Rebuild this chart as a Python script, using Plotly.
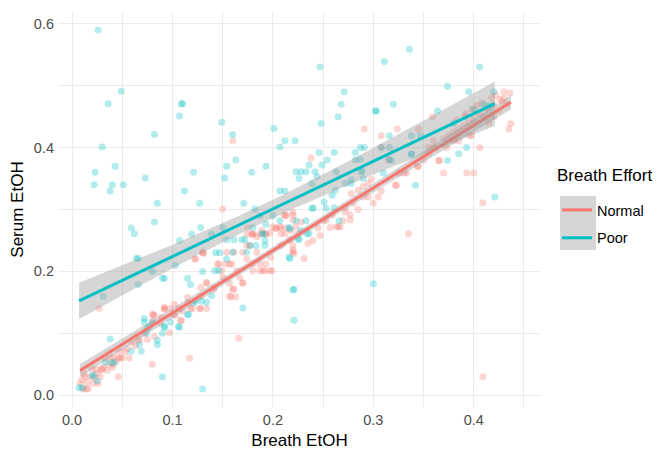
import numpy as np
import plotly.graph_objects as go

# ---------------- data ----------------
groups = ["Normal", "Poor"]
colors = {"Normal": "#F8766D", "Poor": "#00BFC4"}

normal_breath = [
    0.008, 0.011, 0.014, 0.016, 0.013, 0.021, 0.026, 0.030, 0.033, 0.027, 0.038, 0.041, 0.046, 0.048,
    0.053, 0.057, 0.063, 0.066, 0.075, 0.080, 0.081, 0.089, 0.092, 0.097, 0.101, 0.107, 0.109, 0.115,
    0.120, 0.117, 0.127, 0.128, 0.134, 0.141, 0.130, 0.145, 0.149, 0.154, 0.157, 0.161, 0.157, 0.161,
    0.167, 0.170, 0.166, 0.174, 0.180, 0.184, 0.190, 0.197, 0.193, 0.200, 0.207, 0.212, 0.208, 0.220,
    0.211, 0.220,
    0.020, 0.024, 0.029, 0.036, 0.041, 0.046, 0.047, 0.082, 0.092, 0.103, 0.082, 0.088, 0.072, 0.067,
    0.055, 0.060,
    0.080, 0.080, 0.092, 0.098, 0.102, 0.108, 0.110, 0.115, 0.118, 0.128, 0.134, 0.123, 0.131, 0.128,
    0.134, 0.141, 0.146, 0.153, 0.159, 0.150, 0.157, 0.160, 0.158, 0.163, 0.164, 0.170, 0.174, 0.180,
    0.187, 0.193, 0.174, 0.180, 0.187, 0.193, 0.180, 0.187, 0.192, 0.199, 0.170, 0.177,
    0.160, 0.150, 0.175, 0.179, 0.203, 0.208, 0.213, 0.218, 0.213, 0.220, 0.122, 0.130,
    0.238, 0.213, 0.220, 0.223, 0.228, 0.251, 0.257, 0.265, 0.270, 0.259, 0.272, 0.277, 0.278, 0.285,
    0.290, 0.295, 0.203, 0.197, 0.208, 0.184, 0.189, 0.220, 0.221, 0.198,
    0.335, 0.409, 0.409, 0.231, 0.220, 0.253, 0.263, 0.267, 0.277, 0.272, 0.217, 0.225,
    0.359, 0.291, 0.308, 0.324, 0.345, 0.391, 0.308, 0.396, 0.406, 0.437, 0.435, 0.365, 0.370, 0.393,
    0.400, 0.344, 0.331, 0.326, 0.322, 0.323, 0.308, 0.298, 0.295, 0.290, 0.360, 0.362, 0.380,
    0.315, 0.333, 0.345, 0.350, 0.355, 0.366, 0.373, 0.385, 0.398, 0.415, 0.420, 0.300, 0.305, 0.285,
    0.280, 0.245, 0.240, 0.235, 0.247,
    0.400, 0.405, 0.410, 0.415, 0.420, 0.425, 0.428, 0.390, 0.385, 0.380, 0.375, 0.370, 0.360, 0.355,
    0.430, 0.433, 0.395, 0.412,
    0.010, 0.012, 0.015, 0.018, 0.022, 0.025, 0.028, 0.031, 0.035, 0.040, 0.044, 0.050,
    0.418, 0.422, 0.426, 0.430, 0.436, 0.403, 0.408, 0.392, 0.398, 0.383,
]
normal_serum = [
    0.019, 0.010, 0.010, 0.010, 0.030, 0.019, 0.019, 0.041, 0.060, 0.140, 0.060, 0.050, 0.030, 0.060,
    0.070, 0.060, 0.080, 0.090, 0.090, 0.050, 0.130, 0.126, 0.140, 0.101, 0.130, 0.140, 0.121, 0.149,
    0.140, 0.060, 0.140, 0.160, 0.182, 0.171, 0.231, 0.212, 0.201, 0.231, 0.212, 0.231, 0.160, 0.171,
    0.190, 0.182, 0.092, 0.242, 0.261, 0.231, 0.201, 0.201, 0.261, 0.272, 0.272, 0.261, 0.242, 0.242,
    0.291, 0.291,
    0.042, 0.042, 0.042, 0.050, 0.061, 0.061, 0.071, 0.095, 0.139, 0.129, 0.129, 0.116, 0.100, 0.089,
    0.075, 0.085,
    0.131, 0.120, 0.142, 0.140, 0.147, 0.120, 0.136, 0.158, 0.140, 0.140, 0.140, 0.220, 0.229, 0.174,
    0.181, 0.174, 0.212, 0.212, 0.212, 0.190, 0.181, 0.171, 0.159, 0.159, 0.201, 0.181, 0.220, 0.212,
    0.212, 0.212, 0.260, 0.260, 0.260, 0.260, 0.201, 0.201, 0.201, 0.201, 0.231, 0.242,
    0.411, 0.301, 0.270, 0.260, 0.270, 0.270, 0.270, 0.266, 0.290, 0.295, 0.220, 0.230,
    0.383, 0.291, 0.283, 0.272, 0.280, 0.282, 0.271, 0.272, 0.282, 0.291, 0.296, 0.283, 0.326, 0.331,
    0.337, 0.342, 0.269, 0.262, 0.261, 0.256, 0.266, 0.234, 0.229, 0.223,
    0.261, 0.311, 0.030, 0.221, 0.231, 0.283, 0.272, 0.272, 0.291, 0.302, 0.251, 0.261,
    0.450, 0.430, 0.419, 0.430, 0.430, 0.450, 0.400, 0.419, 0.400, 0.439, 0.430, 0.379, 0.359, 0.359,
    0.359, 0.370, 0.359, 0.359, 0.339, 0.339, 0.330, 0.349, 0.320, 0.320, 0.411, 0.400, 0.411,
    0.379, 0.359, 0.370, 0.380, 0.390, 0.379, 0.400, 0.411, 0.420, 0.440, 0.450, 0.310, 0.320, 0.300,
    0.310, 0.270, 0.250, 0.245, 0.258,
    0.445, 0.455, 0.450, 0.465, 0.470, 0.460, 0.475, 0.435, 0.430, 0.425, 0.420, 0.415, 0.400, 0.400,
    0.480, 0.470, 0.440, 0.462,
    0.025, 0.035, 0.020, 0.030, 0.028, 0.035, 0.030, 0.045, 0.040, 0.045, 0.055, 0.060,
    0.480, 0.485, 0.478, 0.490, 0.488, 0.468, 0.472, 0.455, 0.462, 0.445,
]

poor_breath = [
    0.026, 0.036, 0.049, 0.030, 0.023, 0.043, 0.022, 0.040, 0.038, 0.051, 0.073, 0.082, 0.085, 0.109,
    0.110, 0.107, 0.112, 0.121, 0.127, 0.149, 0.160, 0.154, 0.163, 0.152, 0.171, 0.179, 0.193, 0.201,
    0.207, 0.212, 0.222, 0.207, 0.212, 0.182,
    0.247, 0.311, 0.336, 0.406, 0.374, 0.395, 0.420, 0.271, 0.268, 0.265, 0.248, 0.302, 0.303, 0.320,
    0.364, 0.380, 0.316, 0.338, 0.347, 0.287, 0.291, 0.308, 0.316, 0.282, 0.287, 0.316, 0.393, 0.385,
    0.374, 0.338, 0.310, 0.289, 0.342, 0.421,
    0.223, 0.228, 0.233, 0.226, 0.236, 0.242, 0.244, 0.239, 0.246, 0.249, 0.254, 0.261, 0.263, 0.272,
    0.278, 0.282, 0.288,
    0.207, 0.216, 0.223, 0.233, 0.239, 0.251, 0.259, 0.262, 0.261, 0.278, 0.290, 0.228, 0.234, 0.225,
    0.180, 0.190, 0.192, 0.216,
    0.300, 0.221, 0.221, 0.217, 0.266, 0.226, 0.236, 0.217, 0.240, 0.253, 0.318, 0.338,
    0.082, 0.059, 0.062, 0.064, 0.066, 0.066, 0.090, 0.092, 0.080, 0.103, 0.107, 0.119, 0.128, 0.139,
    0.150, 0.115, 0.118, 0.130, 0.143, 0.147, 0.154, 0.161, 0.169, 0.172, 0.174, 0.187, 0.193, 0.200,
    0.192, 0.190, 0.177, 0.183, 0.154, 0.160, 0.142, 0.146, 0.220,
    0.031, 0.170, 0.129, 0.134, 0.139, 0.123, 0.116, 0.107, 0.092, 0.121, 0.115, 0.130, 0.090,
    0.007, 0.010, 0.020, 0.022, 0.025, 0.033, 0.039, 0.042, 0.038, 0.059, 0.067, 0.069, 0.074, 0.077,
    0.080, 0.072, 0.075, 0.085, 0.085, 0.090, 0.092, 0.098, 0.106, 0.072,
    0.410, 0.415, 0.400,
]
poor_serum = [
    0.590, 0.471, 0.491, 0.401, 0.360, 0.370, 0.340, 0.340, 0.330, 0.340, 0.351, 0.421, 0.310, 0.471,
    0.471, 0.451, 0.330, 0.360, 0.310, 0.441, 0.421, 0.370, 0.380, 0.351, 0.310, 0.360, 0.370, 0.431,
    0.401, 0.411, 0.411, 0.330, 0.330, 0.301,
    0.530, 0.539, 0.559, 0.530, 0.499, 0.490, 0.490, 0.490, 0.470, 0.450, 0.439, 0.459, 0.459, 0.470,
    0.459, 0.439, 0.419, 0.419, 0.419, 0.400, 0.400, 0.400, 0.400, 0.392, 0.381, 0.381, 0.400, 0.390,
    0.379, 0.389, 0.359, 0.362, 0.339, 0.320,
    0.361, 0.361, 0.361, 0.350, 0.372, 0.361, 0.353, 0.342, 0.392, 0.372, 0.380, 0.392, 0.361, 0.342,
    0.342, 0.380, 0.361,
    0.282, 0.271, 0.282, 0.282, 0.302, 0.312, 0.323, 0.331, 0.303, 0.348, 0.350, 0.266, 0.261, 0.253,
    0.271, 0.261, 0.250, 0.223,
    0.180, 0.171, 0.121, 0.221, 0.282, 0.251, 0.261, 0.269, 0.302, 0.302, 0.379, 0.390,
    0.280, 0.270, 0.261, 0.221, 0.221, 0.179, 0.189, 0.189, 0.200, 0.210, 0.250, 0.260, 0.271, 0.260,
    0.271, 0.189, 0.179, 0.200, 0.230, 0.230, 0.251, 0.251, 0.251, 0.251, 0.231, 0.290, 0.276, 0.290,
    0.242, 0.261, 0.242, 0.242, 0.220, 0.231, 0.201, 0.201, 0.170,
    0.160, 0.141, 0.152, 0.150, 0.161, 0.152, 0.131, 0.110, 0.110, 0.149, 0.130, 0.010, 0.030,
    0.012, 0.012, 0.032, 0.032, 0.023, 0.053, 0.053, 0.053, 0.091, 0.071, 0.082, 0.071, 0.100, 0.111,
    0.118, 0.118, 0.108, 0.089, 0.082, 0.100, 0.111, 0.118, 0.111, 0.124,
    0.470, 0.468, 0.462,
]

x_ticks = [0.0, 0.1, 0.2, 0.3, 0.4]
y_ticks = [0.0, 0.2, 0.4, 0.6]

data = {
    "Normal": (np.array(normal_breath), np.array(normal_serum)),
    "Poor": (np.array(poor_breath), np.array(poor_serum)),
}


def t975(df):
    z = 1.959964
    return z + (z**3 + z) / (4 * df) + (5 * z**5 + 16 * z**3 + 3 * z) / (96 * df**2)


def lm_fit(x, y, n_out=80):
    n = len(x)
    b1, b0 = np.polyfit(x, y, 1)
    resid = y - (b0 + b1 * x)
    s = np.sqrt(np.sum(resid**2) / (n - 2))
    xm = x.mean()
    sxx = np.sum((x - xm) ** 2)
    xs = np.linspace(x.min(), x.max(), n_out)
    ys = b0 + b1 * xs
    se = s * np.sqrt(1.0 / n + (xs - xm) ** 2 / sxx)
    t = t975(n - 2)
    return xs, ys, ys - t * se, ys + t * se


fig = go.Figure()

# points
for g in groups:
    x, y = data[g]
    fig.add_trace(go.Scatter(
        x=x, y=y, mode="markers", showlegend=False, hoverinfo="skip",
        marker=dict(size=7, color=colors[g], opacity=0.3, line=dict(width=0)),
    ))

# smooth (ribbon + line per group)
for g in groups:
    x, y = data[g]
    xs, ys, lo, hi = lm_fit(x, y)
    fig.add_trace(go.Scatter(
        x=np.concatenate([xs, xs[::-1]]), y=np.concatenate([hi, lo[::-1]]),
        mode="lines", fill="toself", fillcolor="rgba(153,153,153,0.4)",
        line=dict(width=0), showlegend=False, hoverinfo="skip",
    ))
    fig.add_trace(go.Scatter(
        x=xs, y=ys, mode="lines", name=g, legendgroup=g,
        line=dict(color=colors[g], width=3),
    ))

# the page body has an 8px default margin, so the figure is 8px smaller
# and every pixel position below is in figure coordinates
FIG_W, FIG_H = 659, 444
grid = "#EBEBEB"
PX_L, PX_R, PX_T, PX_B = 50, 533, 4, 399


def px_x(px):
    return (px - PX_L) / (PX_R - PX_L)


def px_y(py):
    return (PX_B - py) / (PX_B - PX_T)


fig.update_layout(
    width=FIG_W, height=FIG_H,
    margin=dict(l=PX_L, r=FIG_W - PX_R, t=PX_T, b=FIG_H - PX_B, autoexpand=False),
    paper_bgcolor="white", plot_bgcolor="white",
    font=dict(family="Liberation Sans, Arial, sans-serif", color="black"),
    showlegend=True,
    legend=dict(
        font=dict(size=14.5, color="black"),
        x=px_x(549), y=px_y(186), xanchor="left", yanchor="top",
        bgcolor="rgba(0,0,0,0)", traceorder="grouped", tracegroupgap=6, itemwidth=30,
    ),
    xaxis=dict(
        range=[-0.014, 0.467], tickvals=x_ticks, ticktext=[f"{v:.1f}" for v in x_ticks],
        showgrid=True, gridcolor=grid, gridwidth=1.1, zeroline=False, showline=False,
        ticks="", tickfont=dict(size=14.5, color="#4D4D4D"), automargin=False,
        ticklabelstandoff=2,
        minor=dict(dtick=0.05, tick0=0, showgrid=True, gridcolor=grid, gridwidth=0.6),
        title=dict(text="Breath EtOH", font=dict(size=17, color="black"), standoff=7),
    ),
    yaxis=dict(
        range=[-0.019, 0.619], tickvals=y_ticks, ticktext=[f"{v:.1f}" for v in y_ticks],
        showgrid=True, gridcolor=grid, gridwidth=1.1, zeroline=False, showline=False,
        ticks="", tickfont=dict(size=14.5, color="#4D4D4D"), automargin=False,
        ticklabelstandoff=3,
        minor=dict(dtick=0.1, tick0=0.1, showgrid=True, gridcolor=grid, gridwidth=0.6),
        title=dict(text="Serum EtOH", font=dict(size=17, color="black"), standoff=6),
    ),
    annotations=[dict(
        text="Breath Effort", xref="paper", yref="paper", x=px_x(547), y=px_y(167),
        xanchor="left", yanchor="middle", showarrow=False,
        font=dict(size=17, color="black"),
    )],
    shapes=[dict(
        type="rect", xref="paper", yref="paper", layer="below",
        x0=px_x(552), x1=px_x(588), y0=px_y(242), y1=px_y(188),
        fillcolor="#D6D6D6", line=dict(width=0),
    )],
)

fig.write_html("out.html")
